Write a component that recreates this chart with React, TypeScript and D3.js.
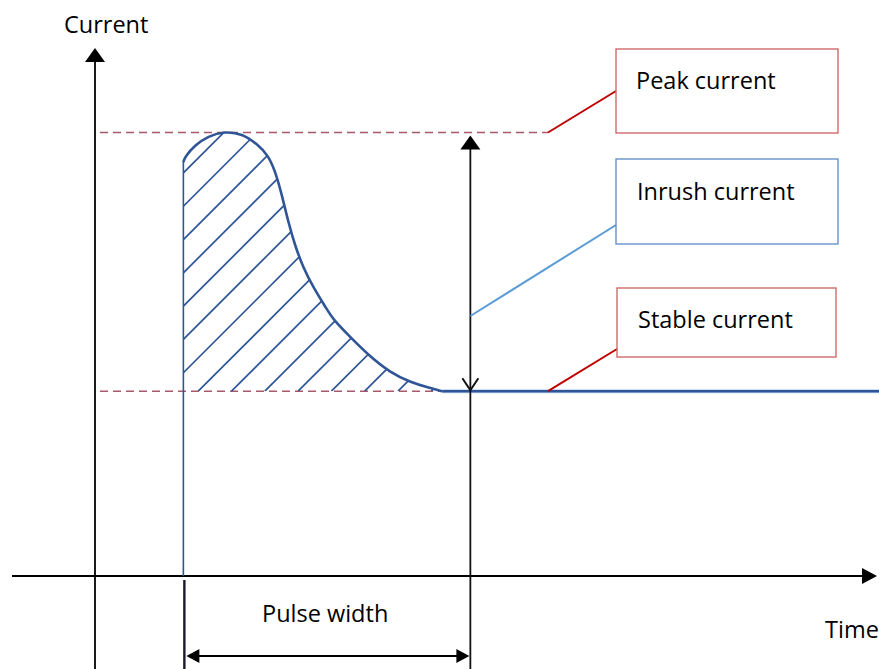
import React from "react";
import * as d3 from "d3";

// ---- data (time units, current units) ----
const timeValues = [11.3, 11.5, 12.8, 14.45, 16.6, 18.8, 20.85, 22.1, 23.0, 23.9, 24.7, 25.6, 26.6, 27.9, 29.7, 30.4, 32.6, 35.2, 37.7, 40.3, 42.8, 44.4];
const currentValues = [7.84, 7.94, 8.16, 8.33, 8.42, 8.38, 8.17, 7.97, 7.69, 7.22, 6.71, 6.25, 5.85, 5.47, 5.04, 4.87, 4.53, 4.15, 3.86, 3.67, 3.56, 3.50];
const peakCurrent = 8.4;
const stableCurrent = 3.5;
const pulseStart = 11.3;
const pulseEnd = 48.0;
const timeEnd = 100.3;
const axisLabels = ["Current", "Time"];
const calloutLabels = ["Peak current", "Inrush current", "Stable current"];
const pulseLabel = "Pulse width";

const W = 879, H = 669;
const BLUE = "#2f5597";
const FONT = "'Open Sans', sans-serif";

export default function App() {
  const x = d3.scaleLinear().domain([0, 100]).range([95, 877]);
  const y = d3.scaleLinear().domain([0, 10]).range([576, 48]);
  const pts = timeValues.map((t, i) => ({ t, c: currentValues[i] }));
  const curve = d3.curveBasis;
  const line = d3.line<any>().x(d => x(d.t)).y(d => y(d.c)).curve(curve);
  const area = d3.area<any>().x(d => x(d.t)).y0(y(stableCurrent)).y1(d => y(d.c)).curve(curve);
  const straight = d3.line<any>().x(d => x(d.t)).y(d => y(d.c));

  const yb = y(stableCurrent);
  const yp = y(peakCurrent);
  const xs = x(pulseStart);
  const xe = x(pulseEnd);
  const x0 = x(13.2);
  const hatch: number[] = [];
  for (let k = -14; k <= 9; k++) hatch.push(x0 + k * 33.3);

  const lastPt = pts[pts.length - 1];
  const tail = [lastPt, { t: pulseEnd, c: stableCurrent }, { t: timeEnd, c: stableCurrent }];

  const xAxisY = y(0);
  const yAxisX = x(0);

  return (
    <svg width={W} height={H} style={{ position: "absolute", left: 0, top: 0, background: "#fff" }}>
      <defs>
        <clipPath id="hatchClip">
          <path d={area(pts) || ""} />
        </clipPath>
      </defs>
      {/* dashed reference lines */}
      <line x1={100} x2={548} y1={yp} y2={yp} stroke="#a8596a" strokeWidth={1.4} strokeDasharray="8 5" />
      <line x1={100} x2={x(lastPt.t)} y1={yb} y2={yb} stroke="#a8596a" strokeWidth={1.4} strokeDasharray="8 5" />

      {/* hatch */}
      <g clipPath="url(#hatchClip)">
        {hatch.map((h, i) => (
          <line key={i} x1={h} y1={yb} x2={h + 340} y2={yb - 340} stroke={BLUE} strokeWidth={1.7} />
        ))}
      </g>

      {/* axes */}
      <line x1={yAxisX} x2={yAxisX} y1={60} y2={H} stroke="#000" strokeWidth={1.8} />
      <path d={`M${yAxisX},48 L${yAxisX - 10},62 L${yAxisX + 10},62 Z`} fill="#000" />
      <line x1={12} x2={865} y1={xAxisY} y2={xAxisY} stroke="#000" strokeWidth={1.8} />
      <path d={`M877,${xAxisY} L862,${xAxisY - 8} L862,${xAxisY + 8} Z`} fill="#000" />

      {/* pulse start vertical */}
      <line x1={xs} x2={xs} y1={y(currentValues[0])} y2={xAxisY} stroke={BLUE} strokeWidth={1.6} />
      <line x1={xs + 1} x2={xs + 1} y1={xAxisY + 4} y2={H} stroke="#1a1a2e" strokeWidth={2.4} />

      {/* curve */}
      <path d={line(pts) || ""} fill="none" stroke={BLUE} strokeWidth={2.6} />
      <path d={straight(tail) || ""} fill="none" stroke="#bcd3ee" strokeWidth={4} />
      <path d={straight(tail) || ""} fill="none" stroke={BLUE} strokeWidth={2.6} />

      {/* double arrow at pulse end */}
      <line x1={xe} x2={xe} y1={148} y2={H} stroke="#111" strokeWidth={1.8} />
      <path d={`M${xe},${yp + 3} L${xe - 10},${yp + 17} L${xe + 10},${yp + 17} Z`} fill="#000" />
      <path d={`M${xe - 8},${yb - 13} L${xe},${yb - 1} L${xe + 8},${yb - 13}`} fill="none" stroke="#111" strokeWidth={2} />

      {/* pulse width arrow */}
      <line x1={xs + 12} x2={xe - 12} y1={656} y2={656} stroke="#000" strokeWidth={2} />
      <path d={`M${xs + 3},656 L${xs + 16},649 L${xs + 16},663 Z`} fill="#000" />
      <path d={`M${xe - 1},656 L${xe - 14},649 L${xe - 14},663 Z`} fill="#000" />

      {/* callouts */}
      <line x1={548} y1={yp} x2={616} y2={91} stroke="#c00000" strokeWidth={2} />
      <rect x={616} y={49} width={222} height={84} fill="none" stroke="#c9605f" strokeWidth={1.3} />
      <line x1={xe} y1={316} x2={616} y2={225} stroke="#5b9bd5" strokeWidth={2} />
      <rect x={616} y={159} width={222} height={85} fill="none" stroke="#5a8ac6" strokeWidth={1.3} />
      <line x1={548} y1={yb} x2={617} y2={349} stroke="#c00000" strokeWidth={2} />
      <rect x={617} y={288} width={219} height={69} fill="none" stroke="#c9605f" strokeWidth={1.3} />

      {/* texts */}
      <g fontFamily={FONT} fontSize={23.5} fill="#000">
        <text x={64} y={33}>{axisLabels[0]}</text>
        <text x={825} y={638}>{axisLabels[1]}</text>
        <text x={636} y={89}>{calloutLabels[0]}</text>
        <text x={637} y={200}>{calloutLabels[1]}</text>
        <text x={638} y={328}>{calloutLabels[2]}</text>
        <text x={262} y={622}>{pulseLabel}</text>
      </g>
    </svg>
  );
}
